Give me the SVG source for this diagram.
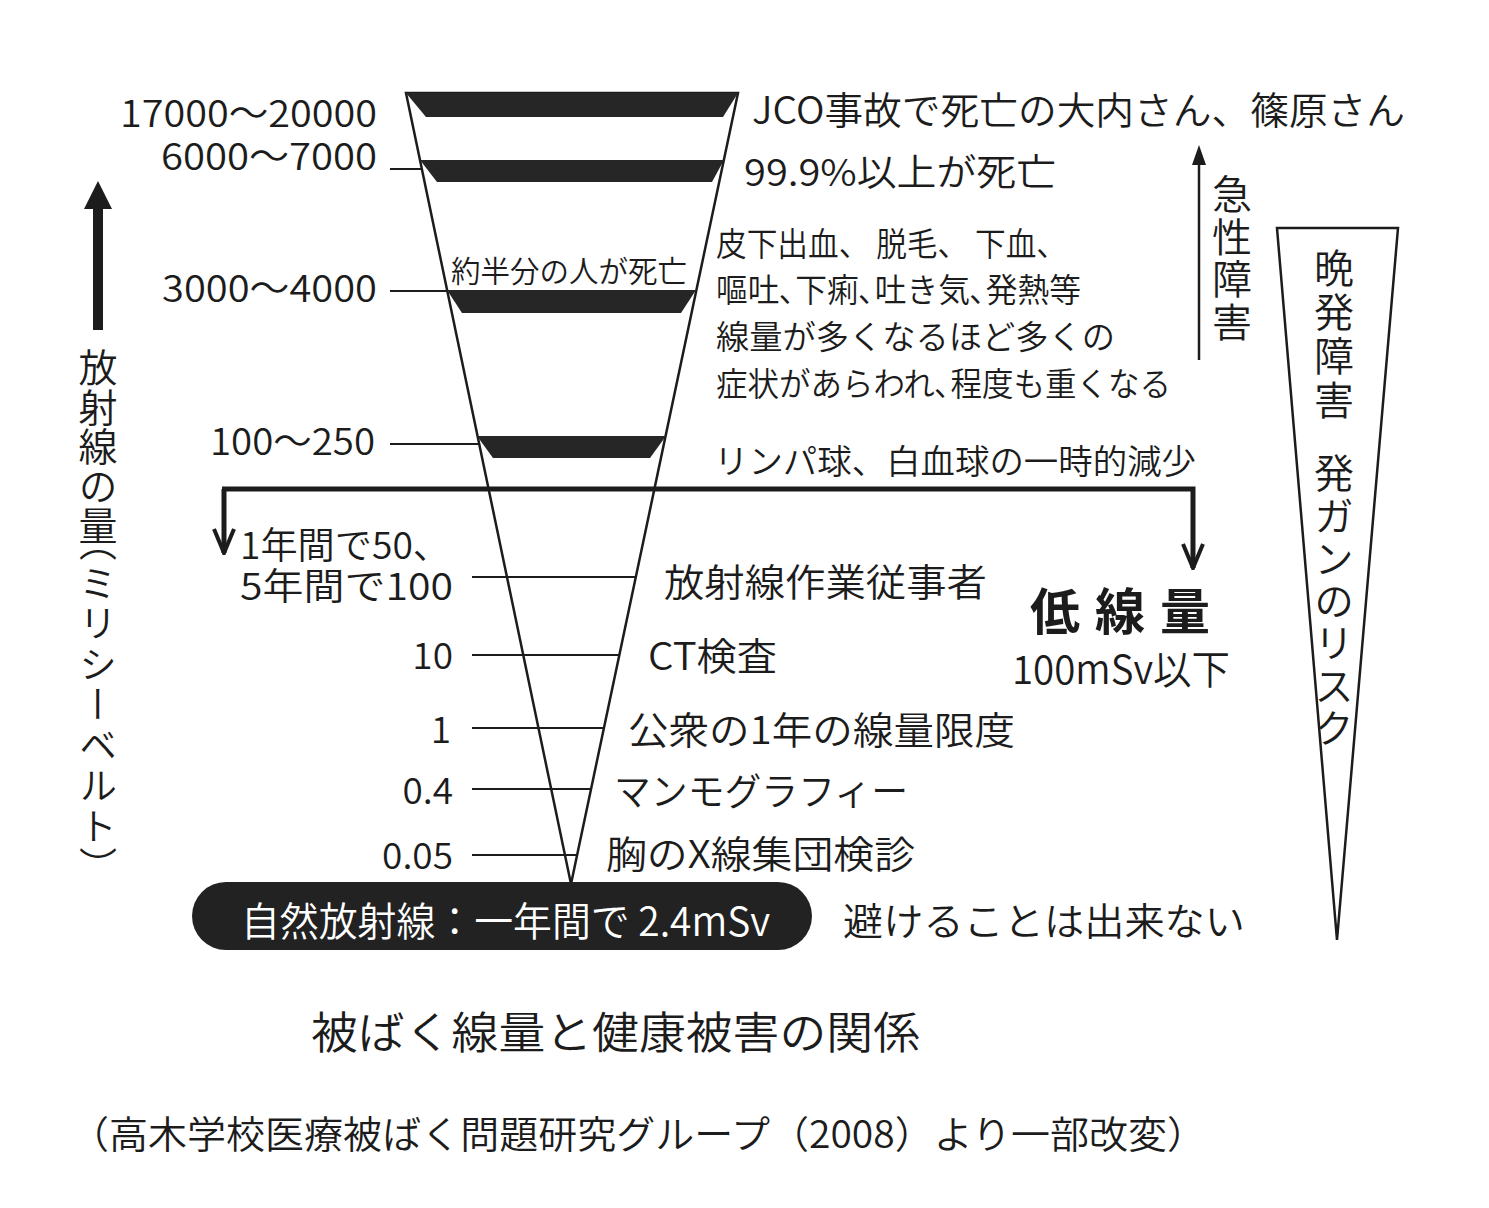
<svg xmlns="http://www.w3.org/2000/svg" width="1489" height="1208" viewBox="0 0 1489 1208">
<defs>
<style>
text{font-family:'Noto Sans CJK JP','Noto Sans',sans-serif;fill:#1c1c1c;font-weight:350;}
.v38{font-size:37px;}
.r38{font-size:37px;}
.s33{font-size:33px;}
.vert{writing-mode:vertical-rl;}
.edge{fill:none;stroke:#1c1c1c;stroke-width:2.5;stroke-linejoin:miter;}
.tick{stroke:#1c1c1c;stroke-width:2;}
.bar{fill:#262626;}
.conn{fill:none;stroke:#1c1c1c;stroke-width:5;}
.head{fill:#1c1c1c;}
</style>
<marker id="vhead" viewBox="0 0 28 24" refX="26" refY="12" markerWidth="28" markerHeight="24" markerUnits="userSpaceOnUse" orient="auto">
<path d="M2,2 L26,12 L2,22" fill="none" stroke="#1c1c1c" stroke-width="4"/>
</marker>
</defs>
<rect width="1489" height="1208" fill="#ffffff"/>

<g id="dose-funnel">
<polygon class="edge" points="406,93 738,93 571,884"/>
<polygon class="bar" points="406,93 738,93 723,117 426,117"/>
<polygon class="bar" points="420,160 724,160 712,182 437,182"/>
<polygon class="bar" points="447,290 696,290 681,313 462,313"/>
<polygon class="bar" points="477,436 666,436 650,458 493,458"/>
<text x="451" y="282" font-size="30" textLength="236" lengthAdjust="spacingAndGlyphs">約半分の人が死亡</text>
</g>

<g id="ticks">
<line class="tick" x1="390" y1="169" x2="422" y2="169"/>
<line class="tick" x1="390" y1="291" x2="447" y2="291"/>
<line class="tick" x1="390" y1="444" x2="479" y2="444"/>
<line class="tick" x1="472" y1="577" x2="636" y2="577"/>
<line class="tick" x1="472" y1="655" x2="619" y2="655"/>
<line class="tick" x1="472" y1="728" x2="604" y2="728"/>
<line class="tick" x1="472" y1="789" x2="591" y2="789"/>
<line class="tick" x1="472" y1="855" x2="577" y2="855"/>
</g>

<g id="dose-labels">
<text class="v38" x="120" y="127" textLength="257" lengthAdjust="spacingAndGlyphs">17000〜20000</text>
<text class="v38" x="161" y="170" textLength="216" lengthAdjust="spacingAndGlyphs">6000〜7000</text>
<text class="v38" x="162" y="302" textLength="215" lengthAdjust="spacingAndGlyphs">3000〜4000</text>
<text class="v38" x="210" y="455" textLength="165" lengthAdjust="spacingAndGlyphs">100〜250</text>
<text class="r38" x="240" y="559" textLength="210" lengthAdjust="spacingAndGlyphs">1年間で50、</text>
<text class="r38" x="240" y="600" textLength="213" lengthAdjust="spacingAndGlyphs">5年間で100</text>
<text class="v38" x="453" y="669" text-anchor="end">10</text>
<text class="v38" x="451" y="743" text-anchor="end">1</text>
<text class="v38" x="453" y="804" text-anchor="end">0.4</text>
<text class="v38" x="453" y="869" text-anchor="end">0.05</text>
</g>

<g id="effect-labels">
<text font-size="38" x="752" y="124" textLength="653" lengthAdjust="spacingAndGlyphs">JCO事故で死亡の大内さん、篠原さん</text>
<text font-size="37" x="744" y="186" textLength="312" lengthAdjust="spacingAndGlyphs">99.9%以上が死亡</text>
<text class="s33" x="716" y="256" textLength="351" lengthAdjust="spacingAndGlyphs">皮下出血、 脱毛、 下血、</text>
<text class="s33" x="716" y="302" textLength="365" lengthAdjust="spacingAndGlyphs">嘔吐､下痢､吐き気､発熱等</text>
<text class="s33" x="716" y="349" textLength="399" lengthAdjust="spacingAndGlyphs">線量が多くなるほど多くの</text>
<text class="s33" x="716" y="396" textLength="455" lengthAdjust="spacingAndGlyphs">症状があらわれ､程度も重くなる</text>
<text font-size="34" x="714" y="474" textLength="482" lengthAdjust="spacingAndGlyphs">リンパ球、白血球の一時的減少</text>
<text font-size="38" x="664" y="596" textLength="323" lengthAdjust="spacingAndGlyphs">放射線作業従事者</text>
<text font-size="38" x="648" y="670" textLength="129" lengthAdjust="spacingAndGlyphs">CT検査</text>
<text font-size="38" x="628" y="744" textLength="387" lengthAdjust="spacingAndGlyphs">公衆の1年の線量限度</text>
<text font-size="38" x="614" y="805" textLength="294" lengthAdjust="spacingAndGlyphs">マンモグラフィー</text>
<text font-size="38" x="606" y="868" textLength="309" lengthAdjust="spacingAndGlyphs">胸のX線集団検診</text>
<text font-size="38" x="843" y="935" textLength="402" lengthAdjust="spacingAndGlyphs">避けることは出来ない</text>
</g>

<g id="low-dose">
<text x="1030" y="630" font-size="50" style="font-weight:700" textLength="180" lengthAdjust="spacing">低線量</text>
<text x="1012" y="684" font-size="40" textLength="218" lengthAdjust="spacingAndGlyphs">100mSv以下</text>
</g>

<g id="natural-radiation">
<rect x="192" y="882" width="620" height="68" rx="34" fill="#222222"/>
<text x="241" y="936" font-size="40" style="fill:#ffffff" textLength="529" lengthAdjust="spacingAndGlyphs">自然放射線：一年間で 2.4mSv</text>
</g>

<g id="axis-dose">
<rect x="93" y="205" width="10" height="125" fill="#1c1c1c"/>
<polygon class="head" points="84,209 98,181 112,209"/>
<text class="vert" x="98" y="348" font-size="39" letter-spacing="0.5">放射線の量</text>
<text class="vert" x="98" y="523" font-size="38" letter-spacing="2.5">（ミリシーベルト）</text>
</g>

<g id="acute">
<line x1="1199" y1="360" x2="1199" y2="160" stroke="#1c1c1c" stroke-width="2.5"/>
<polygon class="head" points="1192,165 1199,145 1206,165"/>
<text class="vert" x="1232" y="174" font-size="40" letter-spacing="2.5">急性障害</text>
</g>

<g id="late">
<polygon class="edge" points="1277,228 1398,228 1337,940"/>
<text class="vert" x="1334" y="248" font-size="40" letter-spacing="4">晩発障害</text>
<text class="vert" x="1334" y="453" font-size="40" letter-spacing="2.5">発ガンのリスク</text>
</g>

<g id="connectors">
<path class="conn" d="M224,489 L224,553" stroke-width="4" marker-end="url(#vhead)"/>
<path class="conn" d="M222,489 L1193,489 L1193,568" marker-end="url(#vhead)"/>
</g>

<g id="caption">
<text x="311" y="1049" font-size="44" textLength="609" lengthAdjust="spacingAndGlyphs">被ばく線量と健康被害の関係</text>
<text x="70" y="1148" font-size="38" textLength="1136" lengthAdjust="spacingAndGlyphs">（高木学校医療被ばく問題研究グループ（2008）より一部改変）</text>
</g>
</svg>
